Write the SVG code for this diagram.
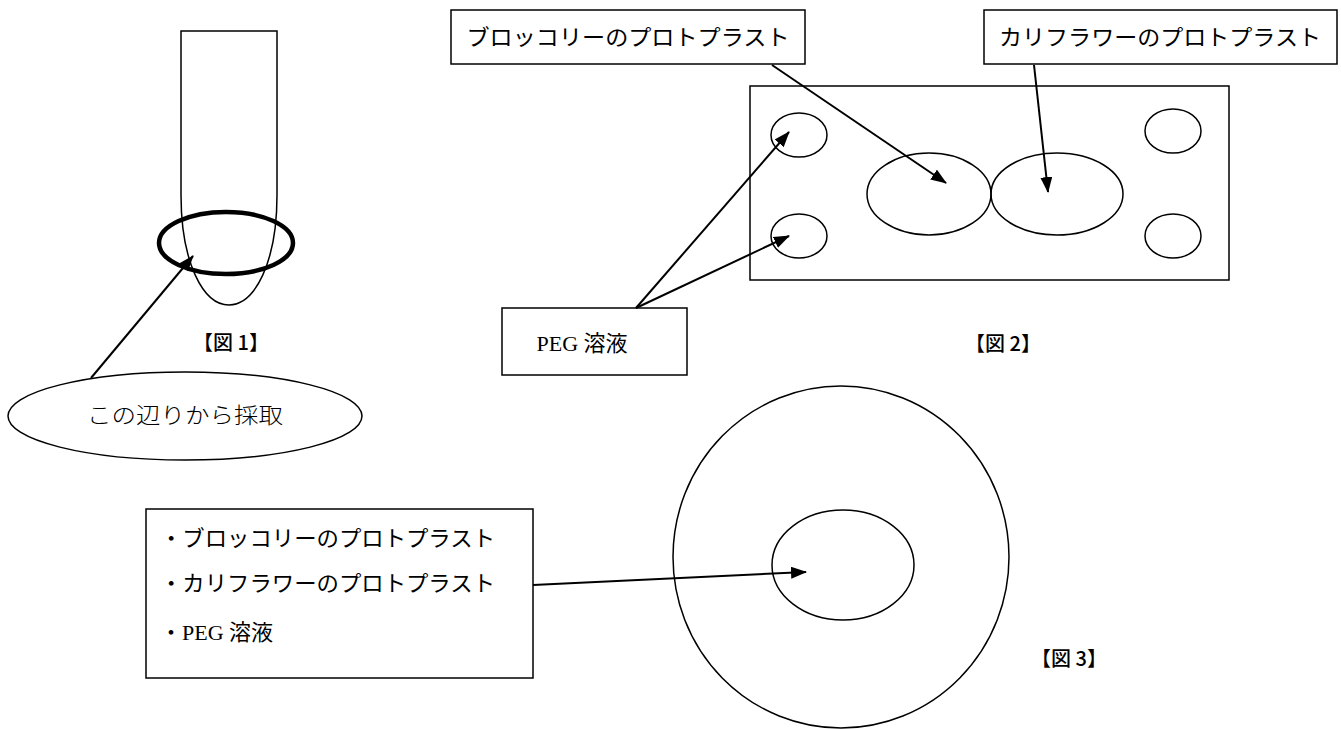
<svg xmlns="http://www.w3.org/2000/svg" width="1341" height="729" viewBox="0 0 1341 729">
<style>
.s{fill:none;stroke:#000;stroke-width:1.5}
.b{fill:#fff;stroke:#000;stroke-width:1.5}
.c{fill:none;stroke:#000;stroke-width:2;marker-end:url(#ah)}
.t{font-family:"Liberation Serif","Noto Sans CJK JP",serif;font-size:22px;fill:#000}
.g{font-family:"Noto Sans CJK JP",sans-serif;font-size:22px;font-weight:300;fill:#000}
.f{font-family:"Noto Sans CJK JP",sans-serif;font-size:20px;font-weight:500;fill:#000}
</style>
<defs>
<marker id="ah" markerUnits="userSpaceOnUse" markerWidth="16" markerHeight="12" refX="15" refY="6" orient="auto">
<path d="M0,0 L16,6 L0,12 Z" fill="#000"/>
</marker>
</defs>
<rect width="1341" height="729" fill="#fff"/>

<g id="fig1-tube">
<path class="s" d="M181,31 H277 V195 C277,262 255,305 229,305 C203,305 181,262 181,195 Z"/>
</g>
<g id="fig1-ring">
<ellipse cx="226" cy="243" rx="67" ry="31" fill="none" stroke="#000" stroke-width="4.5"/>
</g>
<g id="fig1-label">
<text class="f" x="231" y="350" text-anchor="middle" xml:space="preserve">【図 1】</text>
</g>
<g id="fig1-callout">
<ellipse class="b" cx="185" cy="416" rx="177" ry="44"/>
<text class="g" x="185" y="423" text-anchor="middle" textLength="196" lengthAdjust="spacingAndGlyphs">この辺りから採取</text>
</g>

<g id="fig2-dish">
<rect class="s" x="750" y="86" width="479" height="194"/>
<ellipse class="s" cx="799" cy="135" rx="28" ry="22"/>
<ellipse class="s" cx="799" cy="236" rx="28" ry="22"/>
<ellipse class="s" cx="1173" cy="131" rx="28" ry="22"/>
<ellipse class="s" cx="1173" cy="236" rx="28" ry="22"/>
<ellipse class="s" cx="929" cy="194" rx="62" ry="41"/>
<ellipse class="s" cx="1057" cy="194" rx="66" ry="41"/>
</g>
<g id="fig2-broccoli">
<rect class="b" x="451" y="10" width="354" height="54"/>
<text class="t" x="628" y="45" text-anchor="middle" textLength="323" lengthAdjust="spacingAndGlyphs">ブロッコリーのプロトプラスト</text>
</g>
<g id="fig2-cauliflower">
<rect class="b" x="984" y="10" width="353" height="54"/>
<text class="t" x="1160" y="45" text-anchor="middle" textLength="322" lengthAdjust="spacingAndGlyphs">カリフラワーのプロトプラスト</text>
</g>
<g id="fig2-peg">
<rect class="b" x="502" y="308" width="185" height="67"/>
<text class="t" x="582" y="351" text-anchor="middle">PEG 溶液</text>
</g>
<g id="fig2-label">
<text class="f" x="1003" y="351" text-anchor="middle">【図 2】</text>
</g>

<g id="fig3-dish">
<ellipse class="s" cx="841" cy="557" rx="168" ry="171"/>
<ellipse class="s" cx="843" cy="565" rx="71" ry="55"/>
</g>
<g id="fig3-box">
<rect class="b" x="146" y="509" width="387" height="169"/>
<text class="t" x="160" y="546" textLength="335" lengthAdjust="spacingAndGlyphs">・ブロッコリーのプロトプラスト</text>
<text class="t" x="160" y="591" textLength="335" lengthAdjust="spacingAndGlyphs">・カリフラワーのプロトプラスト</text>
<text class="t" x="160" y="640">・PEG 溶液</text>
</g>
<g id="fig3-label">
<text class="f" x="1069" y="666" text-anchor="middle">【図 3】</text>
</g>

<g id="connectors">
<line class="c" x1="91" y1="378" x2="193" y2="256"/>
<line class="c" x1="772" y1="65" x2="946" y2="183"/>
<line class="c" x1="1034" y1="65" x2="1048" y2="192"/>
<line class="c" x1="636" y1="308" x2="789" y2="132"/>
<line class="c" x1="636" y1="308" x2="789" y2="236"/>
<line class="c" x1="533" y1="585" x2="806" y2="572"/>
</g>
</svg>
